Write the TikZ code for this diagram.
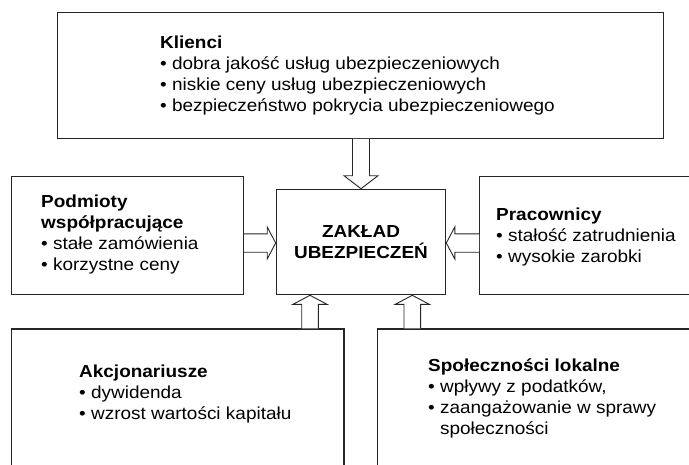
\documentclass[tikz,border=0pt]{standalone}
\usepackage{fontspec}
\setmainfont{Liberation Sans}[FakeStretch=1.09]
\usetikzlibrary{calc}
\begin{document}
\begin{tikzpicture}[x=1pt,y=-1pt,
  box/.style={draw=black!85, line width=1.3pt, inner sep=0pt, anchor=north west},
  fat/.style={draw=black!85, line width=0.9pt, fill=white, line join=miter},
  txt/.style={anchor=north west, align=left, inner sep=0pt, font=\fontsize{17.4}{21}\selectfont},
  ctxt/.style={align=center, inner sep=0pt, font=\bfseries\fontsize{17.4}{21.5}\selectfont}]
\useasboundingbox (0,0) rectangle (689,464);
\clip (0,0) rectangle (689,464);
% boxes
\node[box, minimum width=606pt, minimum height=125.6pt] (kl) at (57,12) {};
\node[box, minimum width=232pt, minimum height=118.3pt] (pod) at (10.7,175.7) {};
\node[box, minimum width=169.3pt, minimum height=105.3pt] (ctr) at (275.7,188.7) {};
\node[box, minimum width=230pt, minimum height=118pt] (pra) at (479,176) {};
\node[box, minimum width=332.6pt, minimum height=150pt] (akc) at (10.7,328.3) {};
\node[box, minimum width=330pt, minimum height=150pt] (spo) at (376.7,328.3) {};
% texts
\node[txt] (tkl) at (160,36) {\textbf{Klienci}\\\textbullet{} dobra jakość usług ubezpieczeniowych\\\textbullet{} niskie ceny usług ubezpieczeniowych\\\textbullet{} bezpieczeństwo pokrycia ubezpieczeniowego};
\node[txt] (tpod) at (41,195) {\textbf{Podmioty}\\\textbf{współpracujące}\\\textbullet{} stałe zamówienia\\\textbullet{} korzystne ceny};
\node[txt] (tpra) at (496,208) {\textbf{Pracownicy}\\\textbullet{} stałość zatrudnienia\\\textbullet{} wysokie zarobki};
\node[txt] (takc) at (79,365) {\textbf{Akcjonariusze}\\\textbullet{} dywidenda\\\textbullet{} wzrost wartości kapitału};
\node[txt] (tspo) at (428,359) {\textbf{Społeczności lokalne}\\\textbullet{} wpływy z podatków,\\\textbullet{} zaangażowanie w sprawy\\\hphantom{\textbullet{} }społeczności};
\node[ctxt] (tctr) at (ctr.center) {ZAKŁAD\\UBEZPIECZEŃ};
% fat arrows
% top: kl -> ctr
\draw[fat] ($(kl.south -| ctr.north)+(-8.5,0)$) -- ($(ctr.north)+(-8.5,-13)$) -- ($(ctr.north)+(-17,-13)$) -- (ctr.north)
  -- ($(ctr.north)+(17,-13)$) -- ($(ctr.north)+(8.5,-13)$) -- ($(kl.south -| ctr.north)+(8.5,0)$);
% left: pod -> ctr
\coordinate (lt) at ($(ctr.west)+(0,1)$);
\draw[fat] ($(pod.east |- lt)+(0,-9.2)$) -- ($(lt)+(-8.5,-9.2)$) -- ($(lt)+(-8.5,-16)$) -- (lt)
  -- ($(lt)+(-8.5,16)$) -- ($(lt)+(-8.5,9.2)$) -- ($(pod.east |- lt)+(0,9.2)$);
% right: pra -> ctr
\coordinate (rt) at ($(ctr.east)+(0,1)$);
\draw[fat] ($(pra.west |- rt)+(0,-9.2)$) -- ($(rt)+(8.5,-9.2)$) -- ($(rt)+(8.5,-16)$) -- (rt)
  -- ($(rt)+(8.5,16)$) -- ($(rt)+(8.5,9.2)$) -- ($(pra.west |- rt)+(0,9.2)$);
% bottom left: akc -> ctr
\coordinate (bl) at ($(ctr.south west)+(34.3,0)$);
\draw[fat] ($(akc.north -| bl)+(-8.3,0)$) -- ($(bl)+(-8.3,9)$) -- ($(bl)+(-17,9)$) -- (bl)
  -- ($(bl)+(17,9)$) -- ($(bl)+(8.3,9)$) -- ($(akc.north -| bl)+(8.3,0)$);
% bottom right: spo -> ctr
\coordinate (br) at ($(ctr.south east)+(-34,0)$);
\draw[fat] ($(spo.north -| br)+(-8.3,0)$) -- ($(br)+(-8.3,9)$) -- ($(br)+(-17,9)$) -- (br)
  -- ($(br)+(17,9)$) -- ($(br)+(8.3,9)$) -- ($(spo.north -| br)+(8.3,0)$);
\end{tikzpicture}
\end{document}
